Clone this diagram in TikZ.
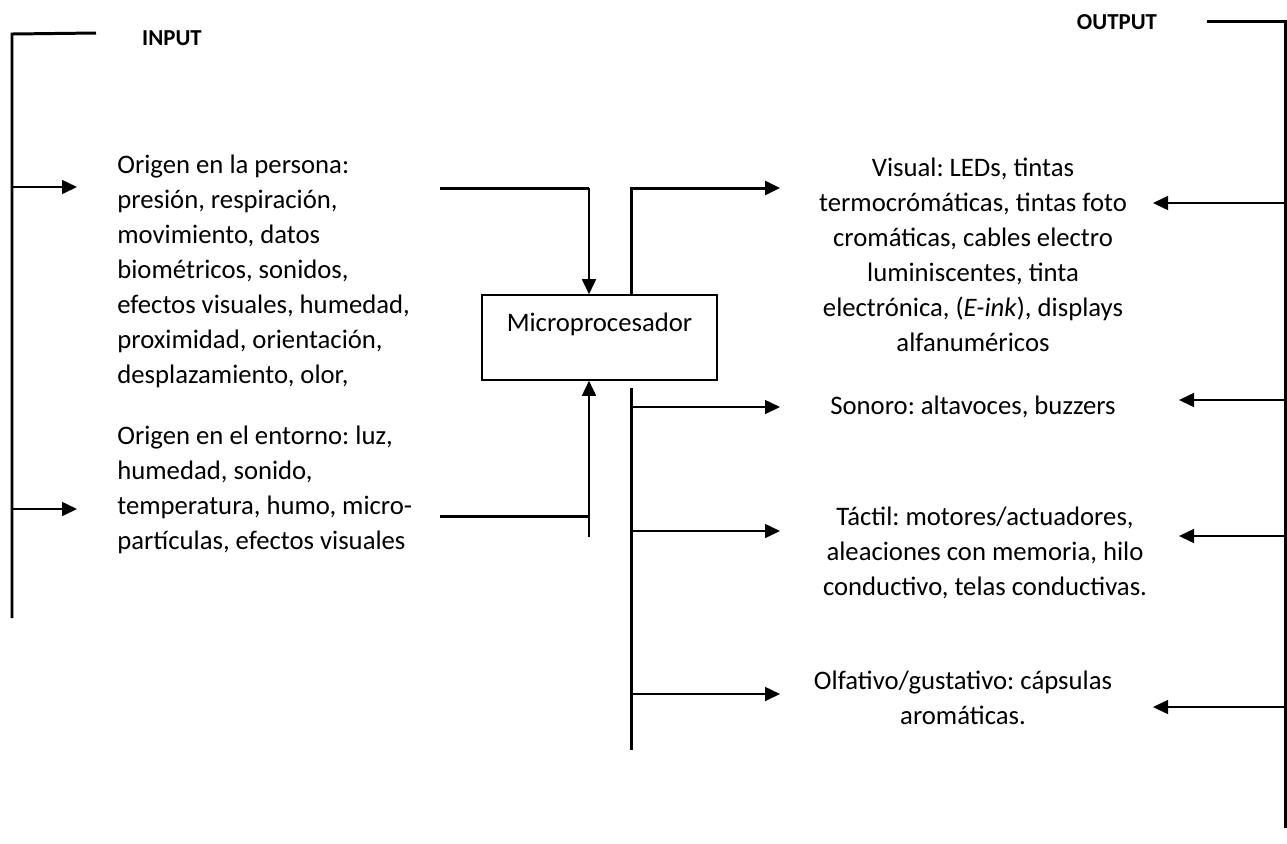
\documentclass[tikz,border=0pt]{standalone}
\usepackage{fontspec}
\setmainfont{Carlito}
\frenchspacing
\usetikzlibrary{arrows.meta,positioning}

\begin{document}
\begin{tikzpicture}[x=0.02cm, y=-0.02cm, >={Triangle[length=0.3cm, width=0.28cm]},
  every node/.style={font=\fontsize{15.2}{19.9}\selectfont, inner sep=0pt},
  bloque/.style={align=left, anchor=west},
  efecto/.style={align=center},
  titulo/.style={font=\fontsize{13}{16}\selectfont\bfseries},
  proc/.style={draw, line width=0.9pt, minimum width=4.7cm, minimum height=1.7cm, align=center},
  barra/.style={line width=1.7pt},
  flecha/.style={->, line width=0.9pt}]
  \useasboundingbox (0,0) rectangle (1287,843);
  % entradas
  \node[titulo] (entrada) at (172,38) {INPUT};
  \node[bloque] (persona) at (117,271) {Origen en la persona:\\presión, respiración,\\movimiento, datos\\biométricos, sonidos,\\efectos visuales, humedad,\\proximidad, orientación,\\desplazamiento, olor,};
  \node[bloque] (entorno) at (117,490) {Origen en el entorno: luz,\\humedad, sonido,\\temperatura, humo, micro-\\partículas, efectos visuales};
  \node[proc] (micro) at (599.5,337.5) {Microprocesador\\[-8pt] \strut};
  % salidas
  \node[titulo] (salida) at (1117,22) {OUTPUT};
  \node[efecto] (visual) at (973,254.5) {Visual: LEDs, tintas\\termocrómáticas, tintas foto\\cromáticas, cables electro\\luminiscentes, tinta\\electrónica, (\textit{E-ink}), displays\\alfanuméricos};
  \node[efecto] (sonoro) at (973,407) {Sonoro: altavoces, buzzers};
  \node[efecto] (tactil) at (985,553) {Táctil: motores/actuadores,\\aleaciones con memoria, hilo\\conductivo, telas conductivas.};
  \node[efecto] (olfato) at (963,697.5) {Olfativo/gustativo: cápsulas\\aromáticas.};
  % puntos libres
  \coordinate (inR) at (96,33);
  \coordinate (inTop) at (12,34);
  \coordinate (inBot) at (12,618);
  \coordinate (outL) at (1207,21);
  \coordinate (outR) at (1285,21);
  \coordinate (outBot) at (1285,828);
  \coordinate (feedA) at (440,188);
  \coordinate (joinA) at (589,188);
  \coordinate (feedB) at (440,516);
  \coordinate (joinB) at (589,516);
  \coordinate (tailB) at (589,537);
  \coordinate (upOut) at (631,188);
  \coordinate (busTop) at (631,388);
  \coordinate (busBot) at (631,750);
  % corchetes
  \draw[barra] (inR) -- (inTop) -- (inBot);
  \draw[barra] (outL) -- (outR) -- (outBot);
  \draw[flecha] (inTop |- 0,187) -- (77,187);
  \draw[flecha] (inTop |- 0,509) -- (77,509);
  \draw[flecha] (outR |- 0,203) -- (1153,203);
  \draw[flecha] (outR |- 0,400) -- (1179,400);
  \draw[flecha] (outR |- 0,536) -- (1179,536);
  \draw[flecha] (outR |- 0,707) -- (1153,707);
  % hacia el microprocesador
  \draw[barra] (feedA) -- (joinA);
  \draw[flecha] (joinA) -- (joinA |- micro.north);
  \draw[barra] (feedB) -- (joinB);
  \draw[flecha] (tailB) -- (tailB |- micro.south);
  % desde el microprocesador
  \draw[barra, ->] (upOut |- micro.north) -- (upOut) -- (780,188);
  \draw[barra] (busTop) -- (busBot);
  \draw[flecha] (busTop |- 0,407) -- (780,407);
  \draw[flecha] (busTop |- 0,531) -- (780,531);
  \draw[flecha] (busTop |- 0,694) -- (780,694);
\end{tikzpicture}
\end{document}
